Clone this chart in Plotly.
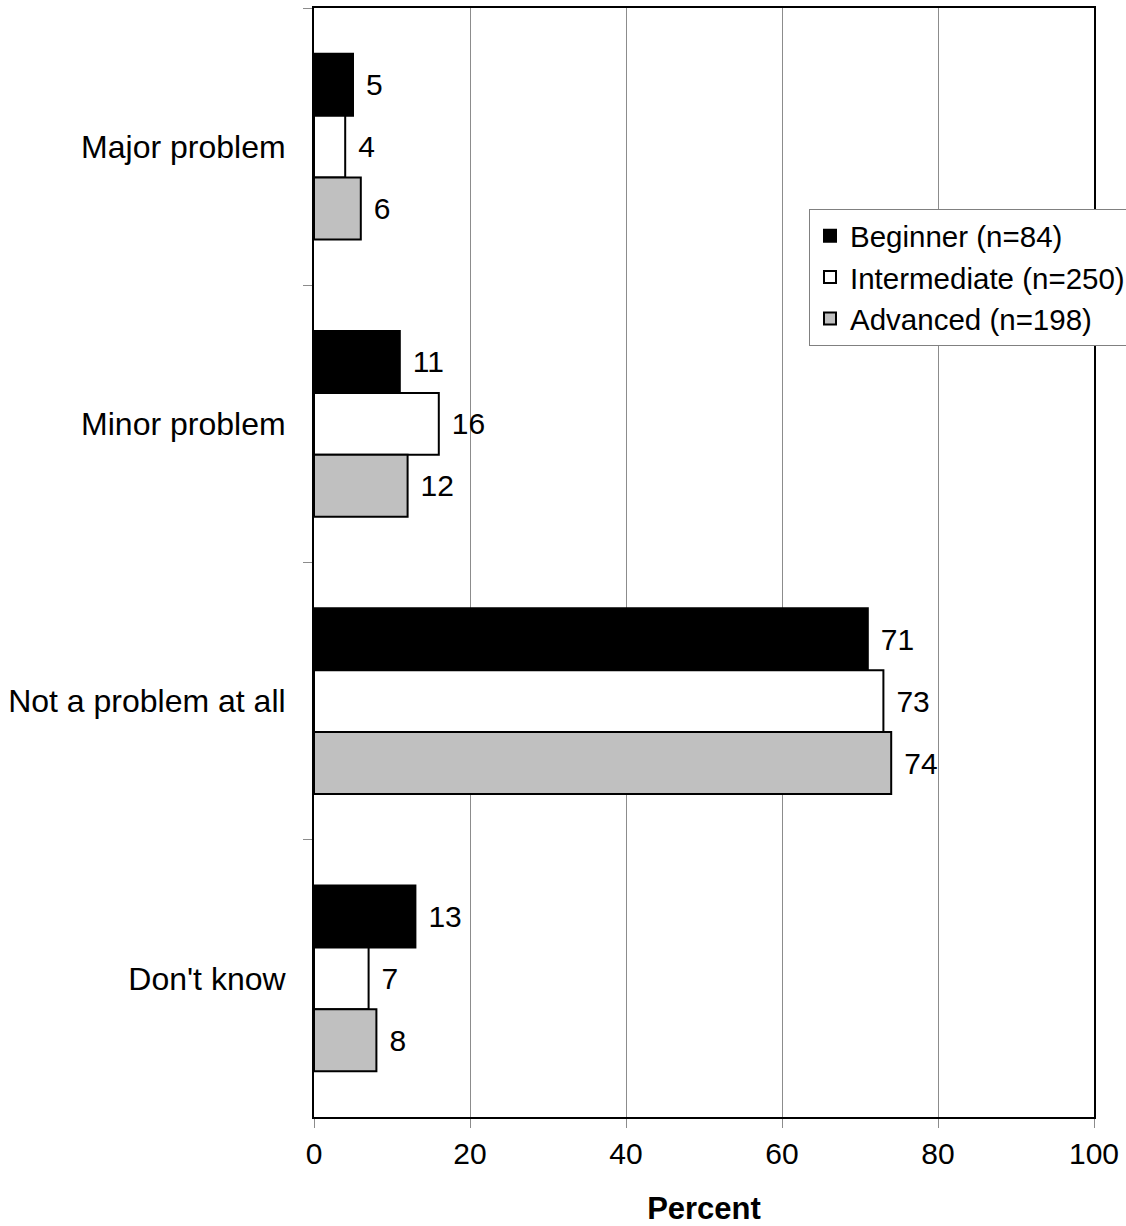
import plotly.graph_objects as go

# Response categories (top to bottom) and percentages by experience level
categories = ["Major problem", "Minor problem", "Not a problem at all", "Don't know"]
beginner = [5, 11, 71, 13]
intermediate = [4, 16, 73, 7]
advanced = [6, 12, 74, 8]
series_names = ["Beginner (n=84)", "Intermediate (n=250)", "Advanced (n=198)"]
x_ticks = [0, 20, 40, 60, 80, 100]

FONT = "Liberation Sans, Arial, Helvetica, sans-serif"
fills = ["#000000", "#ffffff", "#c0c0c0"]
series = [beginner, intermediate, advanced]

W, H = 1126, 1226
ML, MR, MT, MB = 314, 32, 8, 109

fig = go.Figure()
for name, vals, fill in zip(series_names, series, fills):
    fig.add_trace(go.Bar(
        y=categories,
        x=vals,
        name=name,
        orientation="h",
        marker=dict(color=fill, line=dict(color="#000000", width=2)),
        text=[f"{v}" for v in vals],
        texttemplate="\u2004%{text}",
        textposition="outside",
        textfont=dict(family=FONT, size=30, color="#000000"),
        cliponaxis=False,
    ))

plot_w = W - ML - MR
plot_h = H - MT - MB

fig.update_layout(
    width=W,
    height=H,
    margin=dict(l=ML, r=MR, t=MT, b=MB, autoexpand=False),
    paper_bgcolor="#ffffff",
    plot_bgcolor="#ffffff",
    barmode="group",
    bargap=0.33,
    bargroupgap=0,
    font=dict(family=FONT, size=30, color="#000000"),
    showlegend=True,
    legend=dict(
        x=(809 - ML) / plot_w,
        y=1 - (209 - MT) / plot_h,
        xanchor="left", yanchor="top",
        bgcolor="#ffffff",
        bordercolor="#808080",
        borderwidth=1,
        font=dict(family=FONT, size=29.5, color="#000000"),
        traceorder="normal",
        tracegroupgap=0,
        itemwidth=30,
    ),
    xaxis=dict(
        range=[0, 100],
        tickvals=x_ticks,
        ticktext=[str(t) for t in x_ticks],
        showgrid=True,
        gridcolor="#8c8c8c",
        gridwidth=1,
        showline=True,
        linecolor="#000000",
        linewidth=2,
        mirror=True,
        ticks="outside",
        ticklen=9,
        tickcolor="#8c8c8c",
        tickfont=dict(family=FONT, size=30, color="#000000"),
        zeroline=False,
        automargin=False,
        title=dict(text="<b>Percent</b>", font=dict(family=FONT, size=31, color="#000000"), standoff=29),
    ),
    yaxis=dict(
        autorange="reversed",
        showline=True,
        linecolor="#000000",
        linewidth=2,
        mirror=True,
        ticks="outside",
        tickson="boundaries",
        ticklen=9,
        tickcolor="#8c8c8c",
        showgrid=False,
        automargin=False,
        tickfont=dict(family=FONT, size=32, color="#000000"),
        ticklabelstandoff=20,
    ),
)

fig.write_html("out.html")
